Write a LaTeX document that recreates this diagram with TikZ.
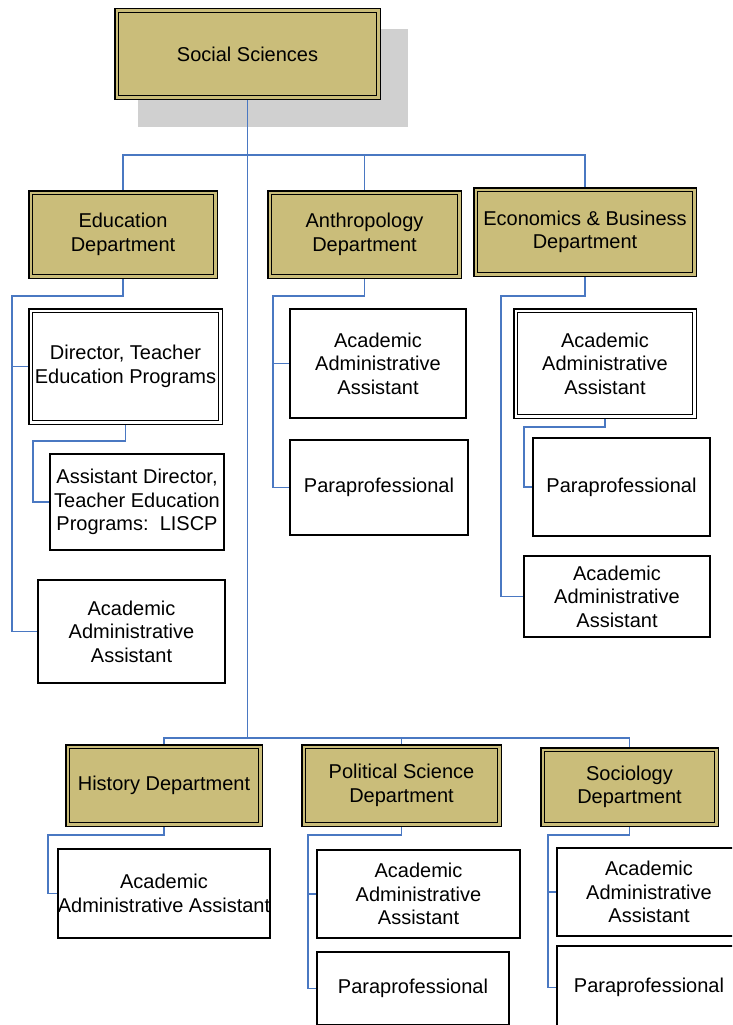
\documentclass[tikz,border=0pt]{standalone}
\usepackage{fontspec}
\setmainfont{Liberation Sans}
\usetikzlibrary{backgrounds}
\definecolor{depttan}{HTML}{CABD7A}
\definecolor{linkblue}{HTML}{4A78C2}
\definecolor{shadegray}{HTML}{D0D0D0}
\begin{document}
\begin{tikzpicture}[x=1pt, y=-1pt,
  every node/.style={font=\fontsize{20}{23.5}\selectfont, align=center, inner sep=0pt},
  dept/.style={draw, rectangle, fill=depttan, line width=1.5pt, double=depttan, double distance=2.4pt},
  staff/.style={draw, rectangle, fill=white, line width=2pt},
  staffdbl/.style={draw, rectangle, fill=white, line width=1.5pt, double=white, double distance=2.4pt},
  link/.style={draw=linkblue, line width=1.8pt}]
  \useasboundingbox (0,0) rectangle (732,1025);
  \clip (0,0) rectangle (732,1025);

  \node[dept, minimum width=261.6pt, minimum height=86.6pt] (soc) at (247.5,54) {Social Sciences};

  \node[dept, minimum width=184.6pt, minimum height=83.6pt] (edu) at (123,234.5) {Education\\Department};
  \node[dept, minimum width=189.6pt, minimum height=83.6pt] (anth) at (364.5,234.5) {Anthropology\\Department};
  \node[dept, minimum width=218.6pt, minimum height=84.6pt] (econ) at (585,232) {Economics \& Business\\Department};

  \node[staffdbl, minimum width=189.6pt, minimum height=111.6pt] (dir) at (125.5,366.5) {Director, Teacher\\Education Programs};
  \node[staff, minimum width=174pt, minimum height=96pt] (asst) at (137,502) {Assistant Director,\\Teacher Education\\Programs:~~LISCP};
  \node[staff, minimum width=187pt, minimum height=103pt] (eduaaa) at (131.5,631.5) {Academic\\Administrative\\Assistant};

  \node[staff, minimum width=176pt, minimum height=109pt] (anthaaa) at (378,363.5) {Academic\\Administrative\\Assistant};
  \node[staff, minimum width=178pt, minimum height=95pt] (anthpara) at (379,487.5) {Paraprofessional};

  \node[staffdbl, minimum width=178.6pt, minimum height=105.6pt] (econaaa) at (605,363.5) {Academic\\Administrative\\Assistant};
  \node[staff, minimum width=177pt, minimum height=98pt] (econpara) at (621.5,487) {Paraprofessional};
  \node[staff, minimum width=186pt, minimum height=81pt] (econaaa2) at (617,596.5) {Academic\\Administrative\\Assistant};

  \node[dept, minimum width=192.6pt, minimum height=77.6pt] (hist) at (164,785.5) {History Department};
  \node[dept, minimum width=195.6pt, minimum height=77.6pt] (pol) at (401.5,785.5) {Political Science\\Department};
  \node[dept, minimum width=173.6pt, minimum height=74.6pt] (socd) at (629.5,787) {Sociology\\Department};

  \node[staff, minimum width=212pt, minimum height=89pt] (histaaa) at (164,893.5) {Academic\\Administrative Assistant};
  \node[staff, minimum width=203pt, minimum height=88pt] (polaaa) at (418.5,894) {Academic\\Administrative\\Assistant};
  \node[staff, minimum width=192pt, minimum height=73pt] (polpara) at (413,988.5) {Paraprofessional};
  \node[staff, minimum width=184pt, minimum height=88pt] (socaaa) at (649,892) {Academic\\Administrative\\Assistant};
  \node[staff, minimum width=184pt, minimum height=83pt] (socpara) at (649,987.5) {Paraprofessional};

  \coordinate (topbar) at (247.5,155);
  \coordinate (lowbar) at (247.5,738);
  \coordinate (eduL) at (12,296);
  \coordinate (dirL) at (33,441);
  \coordinate (anthL) at (273,296);
  \coordinate (econL) at (501,296);
  \coordinate (econaL) at (524,427);
  \coordinate (histL) at (48,835);
  \coordinate (polL) at (308,835);
  \coordinate (socL) at (548,835);

  \begin{scope}[on background layer]
    \fill[shadegray] (138,29) rectangle (408,127);
    \draw[link] (soc.south) -- (lowbar);
    \draw[link] (edu.north) |- (topbar) -| (econ.north);
    \draw[link] (anth.north) -- (anth.north |- topbar);
    \draw[link] (hist.north) |- (lowbar) -| (socd.north);
    \draw[link] (pol.north) -- (pol.north |- lowbar);

    \draw[link] (edu.south) |- (eduL) |- (eduaaa.west);
    \draw[link] (eduL |- dir.west) -- (dir.west);
    \draw[link] (dir.south) |- (dirL) |- (asst.west);

    \draw[link] (anth.south) |- (anthL) |- (anthpara.west);
    \draw[link] (anthL |- anthaaa.west) -- (anthaaa.west);

    \draw[link] (econ.south) |- (econL) |- (econaaa2.west);
    \draw[link] (econaaa.south) |- (econaL) |- (econpara.west);

    \draw[link] (hist.south) |- (histL) |- (histaaa.west);

    \draw[link] (pol.south) |- (polL) |- (polpara.west);
    \draw[link] (polL |- polaaa.west) -- (polaaa.west);

    \draw[link] (socd.south) |- (socL) |- (socpara.west);
    \draw[link] (socL |- socaaa.west) -- (socaaa.west);
  \end{scope}
\end{tikzpicture}
\end{document}
